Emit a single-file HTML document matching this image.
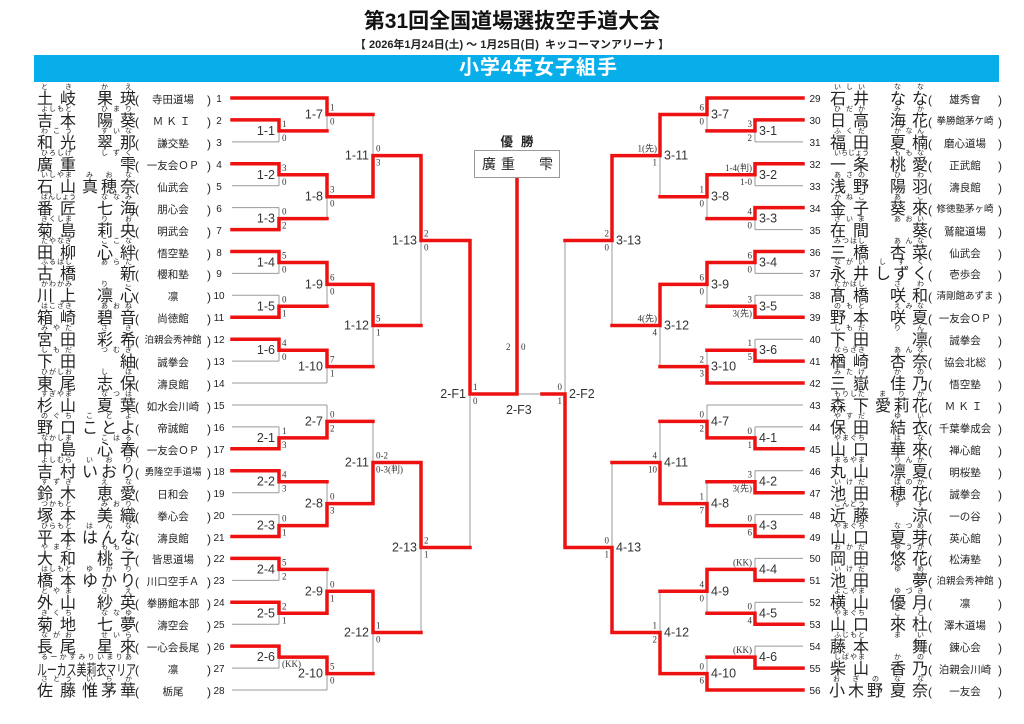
<!DOCTYPE html>
<html><head><meta charset="utf-8">
<style>
*{margin:0;padding:0;box-sizing:border-box}
body{width:1024px;height:724px;background:#fff;position:relative;overflow:hidden;font-family:"Liberation Sans","Noto Sans CJK JP",sans-serif;color:#222}
#t1{position:absolute;left:0;width:1024px;top:8px;text-align:center;font-size:21px;font-weight:bold;line-height:28px;color:#111}
#t2{position:absolute;left:0;width:1024px;top:38px;text-align:center;font-size:11px;font-weight:bold;line-height:14px}
#bar{position:absolute;left:34px;top:55px;width:965px;height:27px;background:#07aeea;color:#fff;font-size:20px;font-weight:bold;line-height:27px;text-align:center;padding-left:44px;letter-spacing:1px}
svg{position:absolute;left:0;top:0}
.R{fill:none;stroke:#e11;stroke-width:3.5;stroke-linecap:square}
.Gy{fill:none;stroke:#999;stroke-width:1}
.lb{font-size:12.5px;fill:#333;font-family:"Liberation Sans","Noto Sans CJK JP",sans-serif}
.sc{font-size:9px;fill:#333;font-family:"Liberation Serif","Noto Sans CJK JP",serif}
.e{text-anchor:end}
.r{position:absolute;left:0;width:1024px;height:24px}
.n{position:absolute;top:0}
.n i{display:block;font-style:normal;font-size:7px;line-height:8px;height:8px;text-align:justify;text-align-last:justify;padding:0 4px;white-space:nowrap}
.n b{display:block;font-weight:normal;font-size:16px;line-height:16px;text-align-last:justify;white-space:nowrap}
.n.k b{text-align-last:right}
.a{left:37px;width:39px}.g{left:97px;width:39px}.g3{left:82px;width:54px}
.A{left:830px;width:39px}.A3{left:829px;width:54px}.G{left:890px;width:38px}.G3{left:875px;width:53px}
.c{position:absolute;top:8px;height:16px;display:flex;font-size:12px;line-height:16px}
.c em{flex:1;font-style:normal;text-align:center;font-size:10.5px;white-space:nowrap}
.cl{left:135px;width:76px}.cr{left:928px;width:74px}
.no{position:absolute;top:8px;line-height:16px;font-size:10px;text-align:center}
.nl{left:211px;width:16px}.nr{left:805px;width:20px}
#champ{position:absolute;left:474px;top:150px;width:86px;height:28px;border:1px solid #999;font-size:14px;line-height:26px;background:#fff}
#yu{position:absolute;left:474px;width:86px;top:131px;text-align:center;font-size:12.5px;font-weight:bold;letter-spacing:8px;padding-left:8px}
</style></head><body>
<div id="t1">第31回全国道場選抜空手道大会</div>
<div id="t2">【 2026年1月24日(土) ～ 1月25日(日)&nbsp; キッコーマンアリーナ 】</div>
<div id="bar">小学4年女子組手</div>

<svg width="1024" height="724" viewBox="0 0 1024 724">
<path class="Gy" d="M232 141.9H279M232 185.7H279M232 207.6H279M232 273.4H279M232 295.3H279M232 361.1H279M232 383H327M232 405H327M232 426.9H279M232 492.7H279M232 514.6H279M232 580.4H279M232 624.2H279M232 668.1H279M232 690H327
M279 130.9V141.9M279 174.8V185.7M279 207.6V218.6M279 262.5V273.4M279 295.3V306.3M279 350.2V361.1M279 426.9V437.9M279 481.7V492.7M279 514.6V525.6M279 569.4V580.4M279 613.3V624.2M279 657.1V668.1
M327 114.5V130.9M327 196.7V218.6M327 284.4V306.3M327 366.6V383M327 405V421.4M327 481.7V503.6M327 569.4V591.3M327 673.6V690
M373 114.5V155.6M373 325.5V366.6M373 421.4V462.5M373 632.5V673.6M421 240.5V325.5M421 547.5V632.5M470 394V547.5M517 394H542
M803 141.9H755M803 185.7H755M803 229.6H755M803 273.4H755M803 295.3H755M803 339.2H755M803 405H707M803 426.9H755M803 470.7H755M803 514.6H755M803 558.4H755M803 602.3H755M803 646.1H755
M755 130.9V141.9M755 174.8V185.7M755 218.6V229.6M755 262.5V273.4M755 295.3V306.3M755 339.2V350.2M755 426.9V437.9M755 470.7V481.7M755 514.6V525.6M755 558.4V569.4M755 602.3V613.3M755 646.1V657.1
M707 114.5V130.9M707 196.7V218.6M707 284.4V306.3M707 350.2V366.6M707 405V421.4M707 481.7V503.6M707 591.3V613.3M707 657.1V673.6
M660 155.6V196.7M660 325.5V366.6M660 421.4V462.5M660 591.3V632.5M612 240.5V325.5M612 462.5V547.5M565 240.5V394"/>
<path class="R" d="M232 98H327M232 119.9H279M232 163.8H279M232 229.6H279M232 251.5H279M232 317.3H279M232 339.2H279M232 448.8H279M232 470.7H279M232 536.5H279M232 558.4H279M232 602.3H279M232 646.1H279
M279 119.9V130.9H327M279 163.8V174.8H327M279 229.6V218.6H327M279 251.5V262.5H327M279 317.3V306.3H327M279 339.2V350.2H327M279 448.8V437.9H327M279 470.7V481.7H327M279 536.5V525.6H327M279 558.4V569.4H327M279 602.3V613.3H327M279 646.1V657.1H327
M327 98V114.5H373M327 174.8V196.7H373M327 262.5V284.4H373M327 350.2V366.6H373M327 437.9V421.4H373M327 525.6V503.6H373M327 613.3V591.3H373M327 657.1V673.6H373
M373 196.7V155.6H421M373 284.4V325.5H421M373 503.6V462.5H421M373 591.3V632.5H421
M421 155.6V240.5H470M421 462.5V547.5H470M470 240.5V394H517V178
M803 98H707M803 119.9H755M803 163.8H755M803 207.6H755M803 251.5H755M803 317.3H755M803 361.1H755M803 383H707M803 448.8H755M803 492.7H755M803 536.5H755M803 580.4H755M803 624.2H755M803 668.1H755M803 690H707
M755 119.9V130.9H707M755 163.8V174.8H707M755 207.6V218.6H707M755 251.5V262.5H707M755 317.3V306.3H707M755 361.1V350.2H707M755 448.8V437.9H707M755 492.7V481.7H707M755 536.5V525.6H707M755 580.4V569.4H707M755 624.2V613.3H707M755 668.1V657.1H707
M707 98V114.5H660M707 174.8V196.7H660M707 262.5V284.4H660M707 383V366.6H660M707 437.9V421.4H660M707 525.6V503.6H660M707 569.4V591.3H660M707 690V673.6H660
M660 114.5V155.6H612M660 284.4V325.5H612M660 503.6V462.5H612M660 673.6V632.5H612
M612 155.6V240.5H565M612 632.5V547.5H565M565 547.5V394H542"/>

<g class="lb">
<text class="e" x="275" y="134.9">1-1</text><text class="e" x="275" y="178.8">1-2</text><text class="e" x="275" y="222.6">1-3</text><text class="e" x="275" y="266.5">1-4</text><text class="e" x="275" y="310.3">1-5</text><text class="e" x="275" y="354.2">1-6</text>
<text class="e" x="275" y="441.9">2-1</text><text class="e" x="275" y="485.7">2-2</text><text class="e" x="275" y="529.6">2-3</text><text class="e" x="275" y="573.4">2-4</text><text class="e" x="275" y="617.3">2-5</text><text class="e" x="275" y="661.1">2-6</text>
<text class="e" x="323" y="118.5">1-7</text><text class="e" x="323" y="200.7">1-8</text><text class="e" x="323" y="288.4">1-9</text><text class="e" x="323" y="370.6">1-10</text>
<text class="e" x="323" y="425.4">2-7</text><text class="e" x="323" y="507.6">2-8</text><text class="e" x="323" y="595.3">2-9</text><text class="e" x="323" y="677.6">2-10</text>
<text class="e" x="369" y="159.6">1-11</text><text class="e" x="369" y="329.5">1-12</text><text class="e" x="369" y="466.5">2-11</text><text class="e" x="369" y="636.5">2-12</text>
<text class="e" x="417" y="244.5">1-13</text><text class="e" x="417" y="551.5">2-13</text><text class="e" x="466" y="398">2-F1</text>
<text x="759" y="134.9">3-1</text><text x="759" y="178.8">3-2</text><text x="759" y="222.6">3-3</text><text x="759" y="266.5">3-4</text><text x="759" y="310.3">3-5</text><text x="759" y="354.2">3-6</text>
<text x="759" y="441.9">4-1</text><text x="759" y="485.7">4-2</text><text x="759" y="529.6">4-3</text><text x="759" y="573.4">4-4</text><text x="759" y="617.3">4-5</text><text x="759" y="661.1">4-6</text>
<text x="711" y="118.5">3-7</text><text x="711" y="200.7">3-8</text><text x="711" y="288.4">3-9</text><text x="711" y="370.6">3-10</text>
<text x="711" y="425.4">4-7</text><text x="711" y="507.6">4-8</text><text x="711" y="595.3">4-9</text><text x="711" y="677.6">4-10</text>
<text x="664" y="159.6">3-11</text><text x="664" y="329.5">3-12</text><text x="664" y="466.5">4-11</text><text x="664" y="636.5">4-12</text>
<text x="616" y="244.5">3-13</text><text x="616" y="551.5">4-13</text><text x="569" y="398">2-F2</text>
<text x="506" y="414">2-F3</text>
</g>
<g class="sc">
<text x="282" y="126.9">1</text><text x="282" y="140.9">0</text>
<text x="282" y="170.8">3</text><text x="282" y="184.8">0</text>
<text x="282" y="214.6">0</text><text x="282" y="228.6">2</text>
<text x="282" y="258.5">5</text><text x="282" y="272.5">0</text>
<text x="282" y="302.3">0</text><text x="282" y="316.3">1</text>
<text x="282" y="346.2">4</text><text x="282" y="360.2">0</text>
<text x="282" y="433.9">1</text><text x="282" y="447.9">3</text>
<text x="282" y="477.7">4</text><text x="282" y="491.7">3</text>
<text x="282" y="521.6">0</text><text x="282" y="535.6">1</text>
<text x="282" y="565.4">5</text><text x="282" y="579.4">2</text>
<text x="282" y="609.3">2</text><text x="282" y="623.3">1</text>
<text x="282" y="667.1">(KK)</text>
<text x="330" y="110.5">1</text><text x="330" y="124.5">0</text>
<text x="330" y="192.7">3</text><text x="330" y="206.7">0</text>
<text x="330" y="280.4">6</text><text x="330" y="294.4">0</text>
<text x="330" y="362.6">7</text><text x="330" y="376.6">1</text>
<text x="330" y="417.4">0</text><text x="330" y="431.4">2</text>
<text x="330" y="499.6">0</text><text x="330" y="513.6">3</text>
<text x="330" y="587.3">0</text><text x="330" y="601.3">1</text>
<text x="330" y="669.6">5</text><text x="330" y="683.6">0</text>
<text x="376" y="151.6">0</text><text x="376" y="165.6">3</text>
<text x="376" y="321.5">5</text><text x="376" y="335.5">1</text>
<text x="376" y="458.5">0-2</text><text x="376" y="472.5">0-3(判)</text>
<text x="376" y="628.5">1</text><text x="376" y="642.5">0</text>
<text x="424" y="236.5">2</text><text x="424" y="250.5">0</text>
<text x="424" y="543.5">2</text><text x="424" y="557.5">1</text>
<text x="473" y="390">1</text><text x="473" y="404">0</text>
<text x="506" y="350">2</text><text x="521" y="350">0</text>
<g class="e">
<text x="752" y="126.9">3</text><text x="752" y="140.9">2</text>
<text x="752" y="170.8">1-4(判)</text><text x="752" y="184.8">1-0</text>
<text x="752" y="214.6">4</text><text x="752" y="228.6">0</text>
<text x="752" y="258.5">6</text><text x="752" y="272.5">0</text>
<text x="752" y="302.3">3</text><text x="752" y="316.3">3(先)</text>
<text x="752" y="346.2">1</text><text x="752" y="360.2">5</text>
<text x="752" y="433.9">0</text><text x="752" y="447.9">1</text>
<text x="752" y="477.7">3</text><text x="752" y="491.7">3(先)</text>
<text x="752" y="521.6">0</text><text x="752" y="535.6">6</text>
<text x="752" y="565.4">(KK)</text>
<text x="752" y="609.3">0</text><text x="752" y="623.3">4</text>
<text x="752" y="653.1">(KK)</text>
<text x="704" y="110.5">6</text><text x="704" y="124.5">0</text>
<text x="704" y="192.7">1</text><text x="704" y="206.7">0</text>
<text x="704" y="280.4">6</text><text x="704" y="294.4">0</text>
<text x="704" y="362.6">2</text><text x="704" y="376.6">3</text>
<text x="704" y="417.4">0</text><text x="704" y="431.4">2</text>
<text x="704" y="499.6">1</text><text x="704" y="513.6">7</text>
<text x="704" y="587.3">4</text><text x="704" y="601.3">0</text>
<text x="704" y="669.6">0</text><text x="704" y="683.6">6</text>
<text x="657" y="151.6">1(先)</text><text x="657" y="165.6">1</text>
<text x="657" y="321.5">4(先)</text><text x="657" y="335.5">4</text>
<text x="657" y="458.5">4</text><text x="657" y="472.5">10</text>
<text x="657" y="628.5">1</text><text x="657" y="642.5">2</text>
<text x="609" y="236.5">2</text><text x="609" y="250.5">0</text>
<text x="609" y="543.5">0</text><text x="609" y="557.5">1</text>
<text x="562" y="390">0</text><text x="562" y="404">1</text>
</g>
</g>
</svg>

<div id="yu">優勝</div>
<div id="champ"><span style="position:absolute;left:7px">廣</span><span style="position:absolute;left:26px">重</span><span style="position:absolute;left:64px">雫</span></div>

<!-- LEFT -->
<div class="r" style="top:84px"><span class="n a"><i>とき</i><b>土岐</b></span><span class="n g"><i>かえ</i><b>果瑛</b></span><span class="c cl">(<em>寺田道場</em>)</span><span class="no nl">1</span></div>
<div class="r" style="top:105.9px"><span class="n a"><i>よしもと</i><b>吉本</b></span><span class="n g"><i>ひまり</i><b>陽葵</b></span><span class="c cl">(<em style="letter-spacing:3px">ＭＫＩ</em>)</span><span class="no nl">2</span></div>
<div class="r" style="top:127.9px"><span class="n a"><i>わこう</i><b>和光</b></span><span class="n g"><i>すいな</i><b>翠那</b></span><span class="c cl">(<em>謙交塾</em>)</span><span class="no nl">3</span></div>
<div class="r" style="top:149.8px"><span class="n a"><i>ひろしげ</i><b>廣重</b></span><span class="n g k"><i>しずく</i><b>雫</b></span><span class="c cl">(<em>一友会ＯＰ</em>)</span><span class="no nl">4</span></div>
<div class="r" style="top:171.7px"><span class="n a"><i>いしやま</i><b>石山</b></span><span class="n g3"><i>みおな</i><b>真穂奈</b></span><span class="c cl">(<em>仙武会</em>)</span><span class="no nl">5</span></div>
<div class="r" style="top:193.6px"><span class="n a"><i>ばんしょう</i><b>番匠</b></span><span class="n g"><i>ななみ</i><b>七海</b></span><span class="c cl">(<em>朋心会</em>)</span><span class="no nl">6</span></div>
<div class="r" style="top:215.6px"><span class="n a"><i>きくしま</i><b>菊島</b></span><span class="n g"><i>りお</i><b>莉央</b></span><span class="c cl">(<em>明武会</em>)</span><span class="no nl">7</span></div>
<div class="r" style="top:237.5px"><span class="n a"><i>たやなぎ</i><b>田柳</b></span><span class="n g"><i>ここな</i><b>心絆</b></span><span class="c cl">(<em>悟空塾</em>)</span><span class="no nl">8</span></div>
<div class="r" style="top:259.4px"><span class="n a"><i>ふるはし</i><b>古橋</b></span><span class="n g k"><i>あらた</i><b>新</b></span><span class="c cl">(<em>櫻和塾</em>)</span><span class="no nl">9</span></div>
<div class="r" style="top:281.3px"><span class="n a"><i>かわかみ</i><b>川上</b></span><span class="n g"><i>りこ</i><b>凛心</b></span><span class="c cl">(<em>凛</em>)</span><span class="no nl">10</span></div>
<div class="r" style="top:303.3px"><span class="n a"><i>はこざき</i><b>箱崎</b></span><span class="n g"><i>あおね</i><b>碧音</b></span><span class="c cl">(<em>尚徳館</em>)</span><span class="no nl">11</span></div>
<div class="r" style="top:325.2px"><span class="n a"><i>みやた</i><b>宮田</b></span><span class="n g"><i>さき</i><b>彩希</b></span><span class="c cl">(<em style="font-size:9.5px">泊親会秀神館</em>)</span><span class="no nl">12</span></div>
<div class="r" style="top:347.1px"><span class="n a"><i>しもだ</i><b>下田</b></span><span class="n g k"><i>つむぎ</i><b>紬</b></span><span class="c cl">(<em>誠拳会</em>)</span><span class="no nl">13</span></div>
<div class="r" style="top:369px"><span class="n a"><i>ひがしお</i><b>東尾</b></span><span class="n g"><i>しほ</i><b>志保</b></span><span class="c cl">(<em>濤良館</em>)</span><span class="no nl">14</span></div>
<div class="r" style="top:391px"><span class="n a"><i>すぎやま</i><b>杉山</b></span><span class="n g"><i>なつは</i><b>夏葉</b></span><span class="c cl">(<em>如水会川崎</em>)</span><span class="no nl">15</span></div>
<div class="r" style="top:412.9px"><span class="n a"><i>のぐち</i><b>野口</b></span><span class="n g3"><i>ことよ</i><b>ことよ</b></span><span class="c cl">(<em>帝誠館</em>)</span><span class="no nl">16</span></div>
<div class="r" style="top:434.8px"><span class="n a"><i>なかしま</i><b>中島</b></span><span class="n g"><i>こはる</i><b>心春</b></span><span class="c cl">(<em>一友会ＯＰ</em>)</span><span class="no nl">17</span></div>
<div class="r" style="top:456.7px"><span class="n a"><i>よしむら</i><b>吉村</b></span><span class="n g3"><i>いおり</i><b>いおり</b></span><span class="c cl">(<em style="font-size:9.5px">勇隆空手道場</em>)</span><span class="no nl">18</span></div>
<div class="r" style="top:478.7px"><span class="n a"><i>すずき</i><b>鈴木</b></span><span class="n g"><i>えな</i><b>恵愛</b></span><span class="c cl">(<em>日和会</em>)</span><span class="no nl">19</span></div>
<div class="r" style="top:500.6px"><span class="n a"><i>つかもと</i><b>塚本</b></span><span class="n g"><i>みおり</i><b>美織</b></span><span class="c cl">(<em>拳心会</em>)</span><span class="no nl">20</span></div>
<div class="r" style="top:522.5px"><span class="n a"><i>ひらもと</i><b>平本</b></span><span class="n g3"><i>はんな</i><b>はんな</b></span><span class="c cl">(<em>濤良館</em>)</span><span class="no nl">21</span></div>
<div class="r" style="top:544.4px"><span class="n a"><i>やまと</i><b>大和</b></span><span class="n g"><i>ももこ</i><b>桃子</b></span><span class="c cl">(<em>皆思道場</em>)</span><span class="no nl">22</span></div>
<div class="r" style="top:566.4px"><span class="n a"><i>はしもと</i><b>橋本</b></span><span class="n g3"><i>ゆかり</i><b>ゆかり</b></span><span class="c cl">(<em>川口空手Ａ</em>)</span><span class="no nl">23</span></div>
<div class="r" style="top:588.3px"><span class="n a"><i>とやま</i><b>外山</b></span><span class="n g"><i>さえ</i><b>紗英</b></span><span class="c cl">(<em>拳勝館本部</em>)</span><span class="no nl">24</span></div>
<div class="r" style="top:610.2px"><span class="n a"><i>きくち</i><b>菊地</b></span><span class="n g"><i>ななゆ</i><b>七夢</b></span><span class="c cl">(<em>濤空会</em>)</span><span class="no nl">25</span></div>
<div class="r" style="top:632.1px"><span class="n a"><i>ながお</i><b>長尾</b></span><span class="n g"><i>せいら</i><b>星來</b></span><span class="c cl">(<em>一心会長尾</em>)</span><span class="no nl">26</span></div>
<div class="r" style="top:654.1px"><span class="n" style="left:37px;width:99px"><i>るーかすみりいまりあ</i><b style="display:inline-block;font-size:15px;transform:scaleX(.66);transform-origin:0 0;width:150px">ルーカス美莉衣マリア</b></span><span class="c cl">(<em>凛</em>)</span><span class="no nl">27</span></div>
<div class="r" style="top:676px"><span class="n a"><i>さとう</i><b>佐藤</b></span><span class="n g3"><i>いちか</i><b>惟茅華</b></span><span class="c cl">(<em>栃尾</em>)</span><span class="no nl">28</span></div>

<!-- RIGHT -->
<div class="r" style="top:84px"><span class="no nr">29</span><span class="n A"><i>いしい</i><b>石井</b></span><span class="n G"><i>なな</i><b>なな</b></span><span class="c cr">(<em>雄秀會</em>)</span></div>
<div class="r" style="top:105.9px"><span class="no nr">30</span><span class="n A"><i>ひだか</i><b>日高</b></span><span class="n G"><i>みか</i><b>海花</b></span><span class="c cr">(<em style="font-size:9.5px">拳勝館茅ケ崎</em>)</span></div>
<div class="r" style="top:127.9px"><span class="no nr">31</span><span class="n A"><i>ふくだ</i><b>福田</b></span><span class="n G"><i>かなん</i><b>夏楠</b></span><span class="c cr">(<em>磨心道場</em>)</span></div>
<div class="r" style="top:149.8px"><span class="no nr">32</span><span class="n A"><i>いちじょう</i><b>一条</b></span><span class="n G"><i>ももな</i><b>桃愛</b></span><span class="c cr">(<em>正武館</em>)</span></div>
<div class="r" style="top:171.7px"><span class="no nr">33</span><span class="n A"><i>あさの</i><b>浅野</b></span><span class="n G"><i>ひわ</i><b>陽羽</b></span><span class="c cr">(<em>濤良館</em>)</span></div>
<div class="r" style="top:193.6px"><span class="no nr">34</span><span class="n A"><i>かねこ</i><b>金子</b></span><span class="n G"><i>あこ</i><b>葵來</b></span><span class="c cr">(<em style="font-size:9.5px">修徳塾茅ヶ崎</em>)</span></div>
<div class="r" style="top:215.6px"><span class="no nr">35</span><span class="n A"><i>ざいま</i><b>在間</b></span><span class="n G k"><i>あおい</i><b>葵</b></span><span class="c cr">(<em>鷲龍道場</em>)</span></div>
<div class="r" style="top:237.5px"><span class="no nr">36</span><span class="n A"><i>みつはし</i><b>三橋</b></span><span class="n G"><i>あんな</i><b>杏菜</b></span><span class="c cr">(<em>仙武会</em>)</span></div>
<div class="r" style="top:259.4px"><span class="no nr">37</span><span class="n A"><i>ながい</i><b>永井</b></span><span class="n G3"><i>しずく</i><b>しずく</b></span><span class="c cr">(<em>壱歩会</em>)</span></div>
<div class="r" style="top:281.3px"><span class="no nr">38</span><span class="n A"><i>たかはし</i><b>髙橋</b></span><span class="n G"><i>さわ</i><b>咲和</b></span><span class="c cr">(<em style="font-size:9.5px">清剛館あずま</em>)</span></div>
<div class="r" style="top:303.3px"><span class="no nr">39</span><span class="n A"><i>のもと</i><b>野本</b></span><span class="n G"><i>えみな</i><b>咲夏</b></span><span class="c cr">(<em>一友会ＯＰ</em>)</span></div>
<div class="r" style="top:325.2px"><span class="no nr">40</span><span class="n A"><i>しもだ</i><b>下田</b></span><span class="n G k"><i>りん</i><b>凛</b></span><span class="c cr">(<em>誠拳会</em>)</span></div>
<div class="r" style="top:347.1px"><span class="no nr">41</span><span class="n A"><i>ならざき</i><b>楢崎</b></span><span class="n G"><i>あんな</i><b>杏奈</b></span><span class="c cr">(<em>協会北総</em>)</span></div>
<div class="r" style="top:369px"><span class="no nr">42</span><span class="n A"><i>みたけ</i><b>三嶽</b></span><span class="n G"><i>かの</i><b>佳乃</b></span><span class="c cr">(<em>悟空塾</em>)</span></div>
<div class="r" style="top:391px"><span class="no nr">43</span><span class="n A"><i>もりした</i><b>森下</b></span><span class="n G3"><i>まりか</i><b>愛莉花</b></span><span class="c cr">(<em style="letter-spacing:3px">ＭＫＩ</em>)</span></div>
<div class="r" style="top:412.9px"><span class="no nr">44</span><span class="n A"><i>やすだ</i><b>保田</b></span><span class="n G"><i>ゆい</i><b>結衣</b></span><span class="c cr">(<em>千葉拳成会</em>)</span></div>
<div class="r" style="top:434.8px"><span class="no nr">45</span><span class="n A"><i>やまぐち</i><b>山口</b></span><span class="n G"><i>はな</i><b>華來</b></span><span class="c cr">(<em>禅心館</em>)</span></div>
<div class="r" style="top:456.7px"><span class="no nr">46</span><span class="n A"><i>まるやま</i><b>丸山</b></span><span class="n G"><i>りんか</i><b>凛夏</b></span><span class="c cr">(<em>明桜塾</em>)</span></div>
<div class="r" style="top:478.7px"><span class="no nr">47</span><span class="n A"><i>いけだ</i><b>池田</b></span><span class="n G"><i>ほのか</i><b>穂花</b></span><span class="c cr">(<em>誠拳会</em>)</span></div>
<div class="r" style="top:500.6px"><span class="no nr">48</span><span class="n A"><i>こんどう</i><b>近藤</b></span><span class="n G k"><i>すず</i><b>涼</b></span><span class="c cr">(<em>一の谷</em>)</span></div>
<div class="r" style="top:522.5px"><span class="no nr">49</span><span class="n A"><i>やまぐち</i><b>山口</b></span><span class="n G"><i>なつめ</i><b>夏芽</b></span><span class="c cr">(<em>英心館</em>)</span></div>
<div class="r" style="top:544.4px"><span class="no nr">50</span><span class="n A"><i>おかだ</i><b>岡田</b></span><span class="n G"><i>ゆうか</i><b>悠花</b></span><span class="c cr">(<em>松涛塾</em>)</span></div>
<div class="r" style="top:566.4px"><span class="no nr">51</span><span class="n A"><i>いけだ</i><b>池田</b></span><span class="n G k"><i>ゆめ</i><b>夢</b></span><span class="c cr">(<em style="font-size:9.5px">泊親会秀神館</em>)</span></div>
<div class="r" style="top:588.3px"><span class="no nr">52</span><span class="n A"><i>よこやま</i><b>横山</b></span><span class="n G"><i>ゆづき</i><b>優月</b></span><span class="c cr">(<em>凛</em>)</span></div>
<div class="r" style="top:610.2px"><span class="no nr">53</span><span class="n A"><i>やまぐち</i><b>山口</b></span><span class="n G"><i>こと</i><b>來杜</b></span><span class="c cr">(<em>澤木道場</em>)</span></div>
<div class="r" style="top:632.1px"><span class="no nr">54</span><span class="n A"><i>ふじもと</i><b>藤本</b></span><span class="n G k"><i>まい</i><b>舞</b></span><span class="c cr">(<em>錬心会</em>)</span></div>
<div class="r" style="top:654.1px"><span class="no nr">55</span><span class="n A"><i>しばやま</i><b>柴山</b></span><span class="n G"><i>かの</i><b>香乃</b></span><span class="c cr">(<em>泊親会川崎</em>)</span></div>
<div class="r" style="top:676px"><span class="no nr">56</span><span class="n A3"><i>おぎの</i><b>小木野</b></span><span class="n G"><i>なな</i><b>夏奈</b></span><span class="c cr">(<em>一友会</em>)</span></div>
</body></html>
